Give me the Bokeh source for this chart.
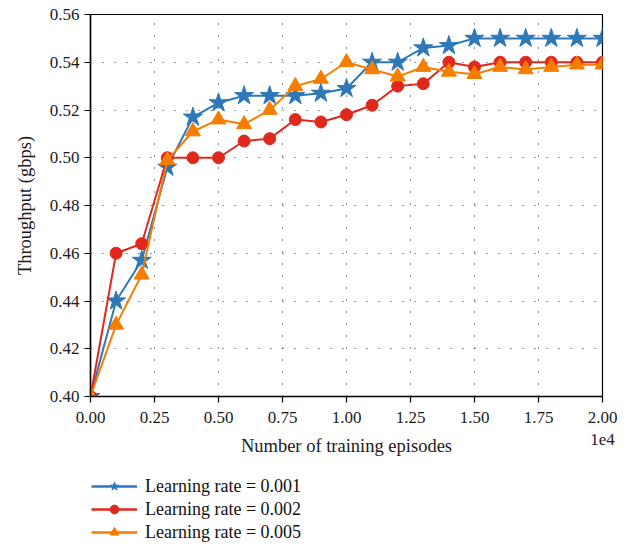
from bokeh.plotting import figure
from bokeh.models import Legend, LegendItem, FixedTicker, Range1d
from bokeh.layouts import column
from bokeh.embed import file_html
from bokeh.resources import INLINE

# Training episodes (in units of 1e4)
episodes = [0.0, 0.1, 0.2, 0.3, 0.4, 0.5, 0.6, 0.7, 0.8, 0.9, 1.0,
            1.1, 1.2, 1.3, 1.4, 1.5, 1.6, 1.7, 1.8, 1.9, 2.0]
lr_001 = [0.400, 0.440, 0.457, 0.496, 0.517, 0.523, 0.526, 0.526, 0.526, 0.527, 0.529,
          0.540, 0.540, 0.546, 0.547, 0.550, 0.550, 0.550, 0.550, 0.550, 0.550]
lr_002 = [0.400, 0.460, 0.464, 0.500, 0.500, 0.500, 0.507, 0.508, 0.516, 0.515, 0.518,
          0.522, 0.530, 0.531, 0.540, 0.538, 0.540, 0.540, 0.540, 0.540, 0.540]
lr_005 = [0.400, 0.430, 0.451, 0.499, 0.511, 0.516, 0.514, 0.520, 0.530, 0.533, 0.540,
          0.537, 0.534, 0.538, 0.536, 0.535, 0.538, 0.537, 0.538, 0.539, 0.539]
labels = ["Learning rate = 0.001", "Learning rate = 0.002", "Learning rate = 0.005"]
x_ticks = [0.0, 0.25, 0.5, 0.75, 1.0, 1.25, 1.5, 1.75, 2.0]
y_ticks = [0.40, 0.42, 0.44, 0.46, 0.48, 0.50, 0.52, 0.54, 0.56]
x_scale_label = "1e4"

FONT = "Liberation Serif"
BLUE, RED, ORANGE = "#2f78b8", "#e0291d", "#f57d00"

p = figure(frame_width=512, frame_height=382, output_backend="svg",
           toolbar_location=None, x_range=(0, 2.0), y_range=(0.40, 0.56),
           min_border_left=90, min_border_top=14, min_border_right=22,
           min_border_bottom=0)
p.background_fill_color = "white"
p.outline_line_color = "black"
p.outline_line_width = 1.2

p.xaxis.ticker = FixedTicker(ticks=x_ticks)
p.yaxis.ticker = FixedTicker(ticks=y_ticks)
xo = {t: f"{t:.2f}" for t in x_ticks}
xo[x_ticks[-1]] = f"{x_ticks[-1]:.2f}\n{x_scale_label}"
p.xaxis.major_label_overrides = xo
p.yaxis.major_label_overrides = {t: f"{t:.2f}" for t in y_ticks}
for ax in (p.xaxis, p.yaxis):
    ax.major_label_text_font = FONT
    ax.major_label_text_font_size = "17px"
    ax.major_label_text_color = "#1a1a1a"
    ax.axis_label_text_font = FONT
    ax.axis_label_text_font_size = "18.5px"
    ax.axis_label_text_font_style = "normal"
    ax.axis_label_text_color = "#1a1a1a"
    ax.axis_line_color = "black"
    ax.axis_line_width = 1.5
    ax.major_tick_line_color = "black"
    ax.major_tick_line_width = 1.2
    ax.major_tick_out = 6
    ax.major_tick_in = 0
    ax.minor_tick_line_color = None
    ax.major_label_standoff = 5
p.xaxis.axis_label = "Number of training episodes"
p.yaxis.axis_label = "Throughput (gbps)"
p.xaxis.axis_label_standoff = -16
p.yaxis.axis_label_standoff = 12

p.grid.grid_line_color = "#333333"
p.grid.grid_line_dash = "1 11"
p.grid.grid_line_width = 1.2

series = [(lr_001, BLUE, "star", 20), (lr_002, RED, "circle", 12), (lr_005, ORANGE, "triangle", 15)]
for ys, col, mk, sz in series:
    p.line(episodes, ys, line_color=col, line_width=2)
    p.scatter(episodes, ys, marker=mk, size=sz, fill_color=col, line_color=col)

# Legend panel below the chart (its renderers lie outside its ranges; only the legend shows)
pl = figure(width=624, height=86, output_backend="svg", toolbar_location=None,
            x_axis_type=None, y_axis_type=None, x_range=Range1d(-3, -2), y_range=Range1d(0, 1),
            min_border=0)
pl.outline_line_color = None
pl.grid.visible = False
items = []
for (ys, col, mk, sz), lab in zip(series, labels):
    ln = pl.line(episodes, ys, line_color=col, line_width=2.5)
    sc = pl.scatter(episodes, ys, marker=mk, size=sz, fill_color=col, line_color=col)
    items.append(LegendItem(label=lab, renderers=[ln, sc]))

legend = Legend(items=items, location=(1, 2), orientation="vertical")
legend.label_text_font = FONT
legend.label_text_font_size = "18px"
legend.label_text_color = "#111111"
legend.glyph_width = 46
legend.glyph_height = 22
legend.label_height = 22
legend.spacing = 1
legend.padding = 0
legend.margin = 0
legend.border_line_color = None
legend.background_fill_alpha = 0
legend.label_standoff = 8
pl.add_layout(legend)

open("out.html", "w").write(file_html(column(p, pl, spacing=0), INLINE))
